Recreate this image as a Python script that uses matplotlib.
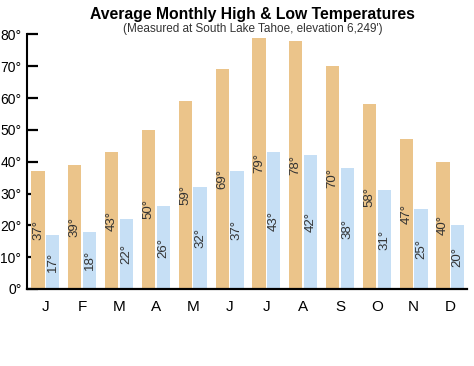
import matplotlib
matplotlib.use("Agg")
import matplotlib.pyplot as plt
import numpy as np

months = ["J", "F", "M", "A", "M", "J", "J", "A", "S", "O", "N", "D"]
highs = [37, 39, 43, 50, 59, 69, 79, 78, 70, 58, 47, 40]
lows = [17, 18, 22, 26, 32, 37, 43, 42, 38, 31, 25, 20]
yticks = [0, 10, 20, 30, 40, 50, 60, 70, 80]

plt.rcParams['font.family'] = ['Liberation Sans', 'DejaVu Sans']

fig = plt.figure(figsize=(4.74, 3.66), dpi=100)
ax = fig.add_axes([27 / 474, 77 / 366, 440 / 474, 254.5 / 366])
ax.set_axisbelow(True)

x = np.arange(len(months))
w = 0.36
off = 0.2
ax.bar(x - off, highs, width=w, color="#EBC48A", zorder=2)
ax.bar(x + off, lows, width=w, color="#C6DFF5", zorder=2)

for i in range(len(months)):
    ax.text(x[i] - off, highs[i] / 2, "{}°".format(highs[i]), rotation=90,
            ha='center', va='center', fontsize=9.5, color="#333333", zorder=3)
    ax.text(x[i] + off, lows[i] / 2, "{}°".format(lows[i]), rotation=90,
            ha='center', va='center', fontsize=9.5, color="#333333", zorder=3)

ax.set_xlim(-0.5, 11.45)
ax.set_ylim(0, 80)
ax.set_xticks(x)
ax.set_xticklabels(months, fontsize=11)
ax.set_yticks(yticks)
ax.set_yticklabels(["{}°".format(t) for t in yticks], fontsize=10)
ax.tick_params(axis='x', length=0, pad=8)
ax.tick_params(axis='y', direction='in', length=8, width=1.6, pad=4)
ax.spines['top'].set_visible(False)
ax.spines['right'].set_visible(False)
ax.spines['left'].set_linewidth(1.5)
ax.spines['bottom'].set_linewidth(1.6)

fig.text(252 / 474, 1 - 15 / 366, "Average Monthly High & Low Temperatures",
         ha='center', va='center', fontsize=11.3, fontweight='bold')
fig.text(253 / 474, 1 - 29 / 366, "(Measured at South Lake Tahoe, elevation 6,249')",
         ha='center', va='center', fontsize=8.5, color="#333333")

fig.savefig("out.png", dpi=100)
